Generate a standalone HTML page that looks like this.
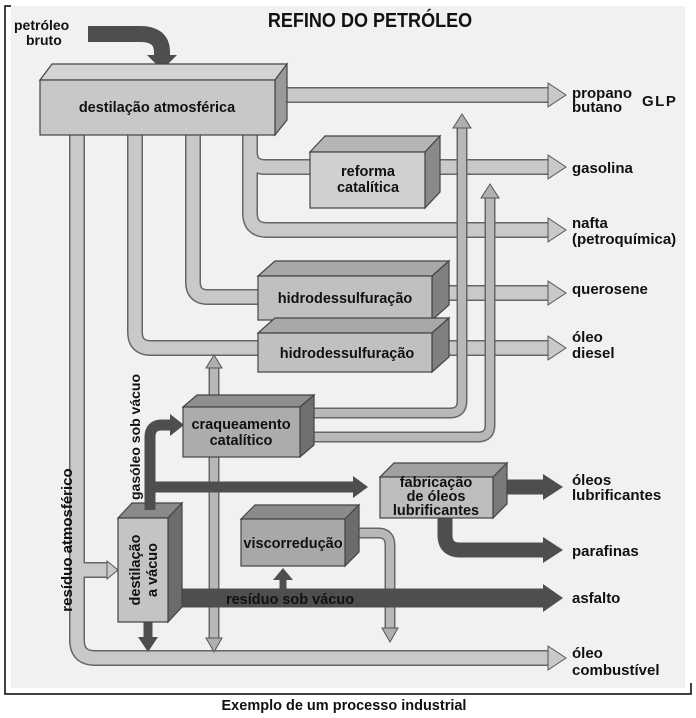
<!DOCTYPE html>
<html><head><meta charset="utf-8"><style>
html,body{margin:0;padding:0;background:#fff}
svg{display:block}
text{font-family:"Liberation Sans",sans-serif;font-weight:bold;fill:#111}
</style></head><body>
<svg width="696" height="718" viewBox="0 0 696 718" xmlns="http://www.w3.org/2000/svg">
<rect x="11" y="6" width="674" height="682" fill="#f1f1f1"/>
<path d="M5,13 V694 H691 V683" fill="none" stroke="#000" stroke-width="1.5"/>
<path d="M5,13 V6 H11" fill="none" stroke="#000" stroke-width="1.5"/>

<text x="370" y="27" font-size="20.5" text-anchor="middle" transform="translate(370,0) scale(0.88,1) translate(-370,0)">REFINO DO PETRÓLEO</text>
<text x="14" y="30" font-size="14">petróleo</text>
<text x="26" y="45" font-size="14">bruto</text>

<g fill="none" stroke-linejoin="round" stroke-linecap="butt">
<g stroke="#666" stroke-width="16">
<path d="M77,130 V640 Q77,658 95,658 H548"/>
<path d="M135,130 V332 Q135,348 151,348 H262"/>
<path d="M193,130 V282 Q193,297 208,297 H262"/>
<path d="M250,130 V152 Q250,167 265,167 H314"/>
<path d="M250,150 V213 Q250,230 267,230 H548"/>
<path d="M280,95 H548"/>
<path d="M430,167 H548"/>
<path d="M432,293 H548"/>
<path d="M432,348 H548"/>
<path d="M80,570 H108"/>
</g>
<g stroke="#c9c9c9" stroke-width="13">
<path d="M77,130 V640 Q77,658 95,658 H549"/>
<path d="M135,130 V332 Q135,348 151,348 H262"/>
<path d="M193,130 V282 Q193,297 208,297 H262"/>
<path d="M250,130 V152 Q250,167 265,167 H314"/>
<path d="M250,150 V213 Q250,230 267,230 H549"/>
<path d="M280,95 H549"/>
<path d="M430,167 H549"/>
<path d="M432,293 H549"/>
<path d="M432,348 H549"/>
<path d="M80,570 H109"/>
</g>
<g stroke="#666" stroke-width="11">
<path d="M305,413 H450 Q462,413 462,401 V128"/>
<path d="M305,437 H478 Q490,437 490,425 V198"/>
<path d="M214,405 V368"/>
<path d="M214,455 V638"/>
<path d="M350,533 H378 Q390,533 390,545 V628"/>
</g>
<g stroke="#b8b8b8" stroke-width="8">
<path d="M305,413 H450 Q462,413 462,401 V128"/>
<path d="M305,437 H478 Q490,437 490,425 V198"/>
<path d="M214,405 V368"/>
<path d="M214,455 V638"/>
<path d="M350,533 H378 Q390,533 390,545 V628"/>
</g>
</g>
<g fill="#c9c9c9" stroke="#555" stroke-width="1">
<polygon points="548,83 566,95 548,107"/>
<polygon points="548,155 566,167 548,179"/>
<polygon points="548,218 566,230 548,242"/>
<polygon points="548,281 566,293 548,305"/>
<polygon points="548,336 566,348 548,360"/>
<polygon points="548,646 566,658 548,670"/>
<polygon points="107,561 118,570 107,579"/>
</g>
<g fill="#b0b0b0" stroke="#555" stroke-width="1">
<polygon points="453,128 462,114 471,128"/>
<polygon points="481,198 490,184 499,198"/>
<polygon points="206,368 214,355 222,368"/>
<polygon points="206,638 214,652 222,638"/>
<polygon points="382,628 390,642 398,628"/>
</g>

<g fill="none" stroke="#4e4e4e" stroke-linejoin="round">
<path d="M88,34 H140 Q162,34 162,52 V56" stroke-width="16"/>
<path d="M150,510 V437 Q150,425 162,425 H172" stroke-width="11"/>
<path d="M150,487 H355" stroke-width="11"/>
<path d="M490,487 H545" stroke-width="15"/>
<path d="M445,515 V535 Q445,550 460,550 H545" stroke-width="15"/>
<path d="M172,598 H545" stroke-width="19"/>
<path d="M283,590 V578" stroke-width="7"/>
<path d="M148,620 V638" stroke-width="9"/>
</g>
<g fill="#4e4e4e">
<polygon points="147,55 177,55 162,70"/>
<polygon points="170,414 184,425 170,436"/>
<polygon points="353,476 368,487 353,498"/>
<polygon points="543,474 563,487 543,500"/>
<polygon points="543,537 563,550 543,563"/>
<polygon points="543,584 563,598 543,612"/>
<polygon points="273,580 283,568 293,580"/>
<polygon points="138,637 148,652 158,637"/>
</g>

<g stroke="#444" stroke-width="1.2">
<polygon points="40,80 52,64 287,64 275,80" fill="#d4d4d4"/>
<polygon points="275,80 287,64 287,120 275,135" fill="#9a9a9a"/>
<rect x="40" y="80" width="235" height="55" fill="#c8c8c8"/>
<polygon points="310,152 325,136 440,136 425,152" fill="#b5b5b5"/>
<polygon points="425,152 440,136 440,192 425,208" fill="#8a8a8a"/>
<rect x="310" y="152" width="115" height="56" fill="#d0d0d0"/>
<polygon points="258,276 275,261 449,261 432,276" fill="#a8a8a8"/>
<polygon points="432,276 449,261 449,305 432,320" fill="#808080"/>
<rect x="258" y="276" width="174" height="44" fill="#c0c0c0"/>
<polygon points="258,333 275,318 449,318 432,333" fill="#a8a8a8"/>
<polygon points="432,333 449,318 449,357 432,372" fill="#808080"/>
<rect x="258" y="333" width="174" height="39" fill="#c0c0c0"/>
<polygon points="183,407 197,395 314,395 300,407" fill="#8e8e8e"/>
<polygon points="300,407 314,395 314,445 300,457" fill="#707070"/>
<rect x="183" y="407" width="117" height="50" fill="#acacac"/>
<polygon points="380,477 394,463 507,463 493,477" fill="#a0a0a0"/>
<polygon points="493,477 507,463 507,504 493,518" fill="#7a7a7a"/>
<rect x="380" y="477" width="113" height="41" fill="#bdbdbd"/>
<polygon points="241,519 255,505 359,505 345,519" fill="#8a8a8a"/>
<polygon points="345,519 359,505 359,552 345,566" fill="#6c6c6c"/>
<rect x="241" y="519" width="104" height="47" fill="#a8a8a8"/>
<polygon points="118,518 132,503 182,503 168,518" fill="#8a8a8a"/>
<polygon points="168,518 182,503 182,607 168,622" fill="#6c6c6c"/>
<rect x="118" y="518" width="50" height="104" fill="#c4c4c4"/>
</g>
<path d="M150,510 V500" stroke="#4e4e4e" stroke-width="11"/>

<g font-size="14.5" text-anchor="middle">
<text x="157" y="112">destilação atmosférica</text>
<text x="368" y="176">reforma</text>
<text x="368" y="192">catalítica</text>
<text x="345" y="303">hidrodessulfuração</text>
<text x="347" y="358">hidrodessulfuração</text>
<text x="241" y="429">craqueamento</text>
<text x="241" y="445">catalítico</text>
<text x="436" y="487">fabricação</text>
<text x="436" y="501">de  óleos</text>
<text x="436" y="515">lubrificantes</text>
<text x="293" y="548">viscorredução</text>
</g>
<text x="0" y="0" font-size="14.5" text-anchor="middle" transform="translate(140,570) rotate(-90)">destilação</text>
<text x="0" y="0" font-size="14.5" text-anchor="middle" transform="translate(157,570) rotate(-90)">a vácuo</text>
<text x="0" y="0" font-size="14" text-anchor="middle" transform="translate(140,437) rotate(-90)">gasóleo sob vácuo</text>
<text x="0" y="0" font-size="15" text-anchor="middle" transform="translate(72,540) rotate(-90)">resíduo atmosférico</text>
<text x="290" y="604" font-size="14.5" text-anchor="middle">resíduo sob vácuo</text>

<g font-size="15">
<text x="572" y="98">propano</text>
<text x="572" y="112">butano</text>
<text x="642" y="106" font-weight="normal" letter-spacing="1.5">GLP</text>
<text x="572" y="173">gasolina</text>
<text x="572" y="228">nafta</text>
<text x="572" y="244">(petroquímica)</text>
<text x="572" y="294">querosene</text>
<text x="572" y="342">óleo</text>
<text x="572" y="358">diesel</text>
<text x="572" y="485">óleos</text>
<text x="572" y="500">lubrificantes</text>
<text x="572" y="556">parafinas</text>
<text x="572" y="603">asfalto</text>
<text x="572" y="658">óleo</text>
<text x="572" y="675">combustível</text>
</g>
<text x="344" y="710" font-size="14.5" text-anchor="middle">Exemplo de um processo industrial</text>
</svg>
</body></html>
